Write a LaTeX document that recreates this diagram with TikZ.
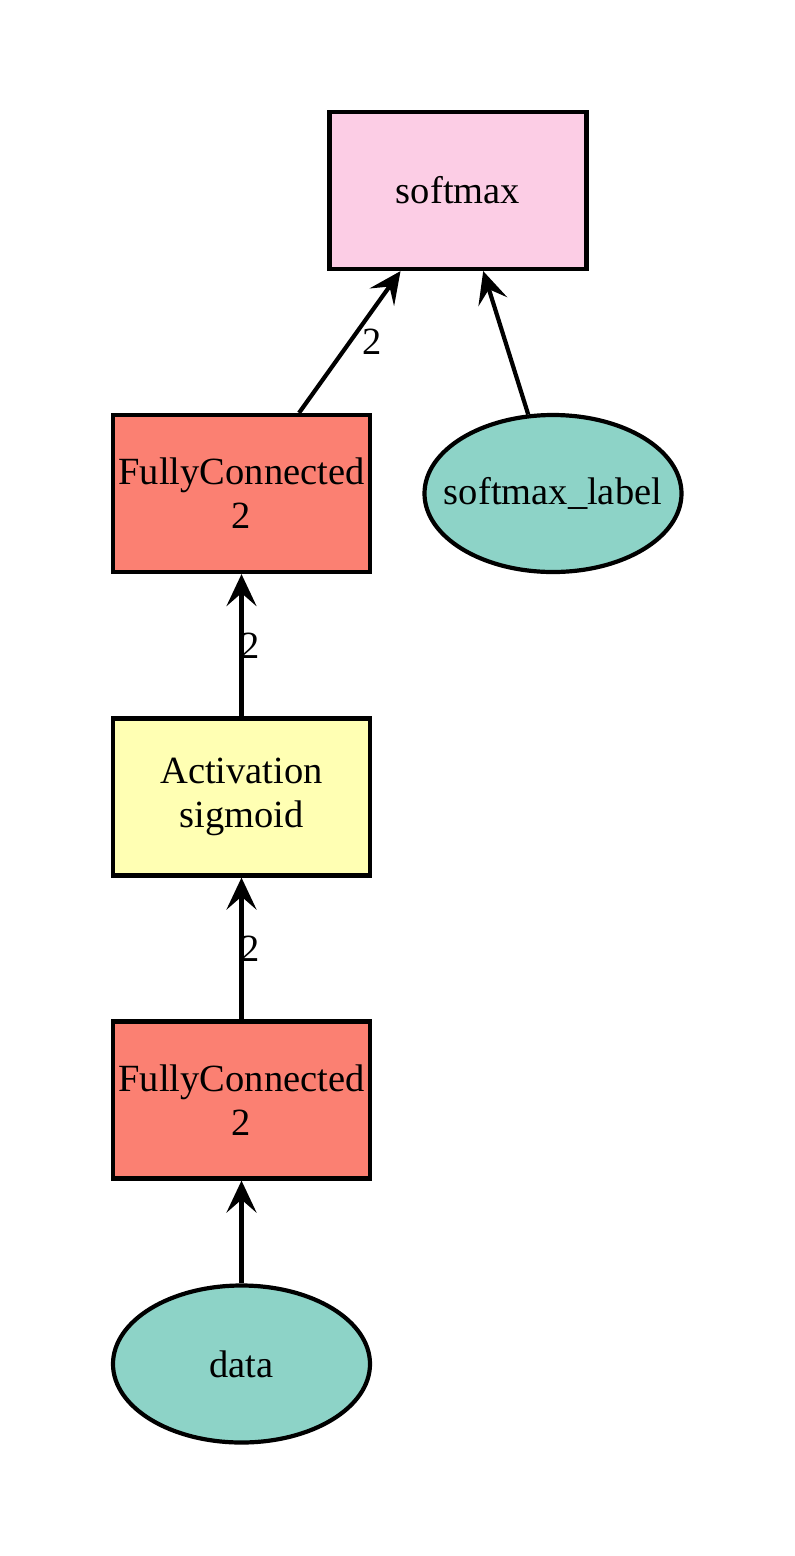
\documentclass[tikz,border=0pt]{standalone}
\usepackage{fontspec}
\setmainfont{Liberation Serif}
\usetikzlibrary{shapes.geometric,arrows.meta}
\definecolor{fcred}{HTML}{FB8072}
\definecolor{actyellow}{HTML}{FFFFB3}
\definecolor{smpink}{HTML}{FCCDE5}
\definecolor{vargreen}{HTML}{8DD3C7}
\begin{document}
\begin{tikzpicture}[x=1pt,y=-1pt,
  base/.style={draw=black,line width=4.2pt,align=center,font=\fontsize{38.5}{44}\selectfont,inner sep=0pt},
  opbox/.style={base,rectangle,minimum width=257pt,minimum height=157pt},
  varell/.style={base,ellipse,minimum width=257pt,minimum height=157pt},
  arr/.style={line width=4.2pt,{Stealth[length=32pt,width=30pt,inset=13pt]}-},
  elab/.style={font=\fontsize{38.5}{44}\selectfont,inner sep=0pt}]
\fill[white] (0,0) rectangle (795,1556);
\useasboundingbox (0,0) rectangle (795,1556);
\node[opbox,fill=smpink] (softmax) at (458,190.5) {softmax};
\node[opbox,fill=fcred] (fc2) at (241.5,493.5) {FullyConnected\\2};
\node[varell,fill=vargreen] (label) at (553,493.5) {\makebox[0pt]{softmax\_label}};
\node[opbox,fill=actyellow] (act) at (241.5,797) {Activation\\sigmoid};
\node[opbox,fill=fcred] (fc1) at (241.5,1100) {FullyConnected\\2};
\node[varell,fill=vargreen] (data) at (241.5,1364) {\makebox[0pt]{data}};
\draw[arr] (softmax) -- node[elab,pos=0.5,xshift=22pt]{2} (fc2);
\draw[arr] (softmax) -- (label);
\draw[arr] (fc2) -- node[elab,pos=0.5,xshift=9pt]{2} (act);
\draw[arr] (act) -- node[elab,pos=0.5,xshift=9pt]{2} (fc1);
\draw[arr] (fc1) -- (data);
\end{tikzpicture}
\end{document}
